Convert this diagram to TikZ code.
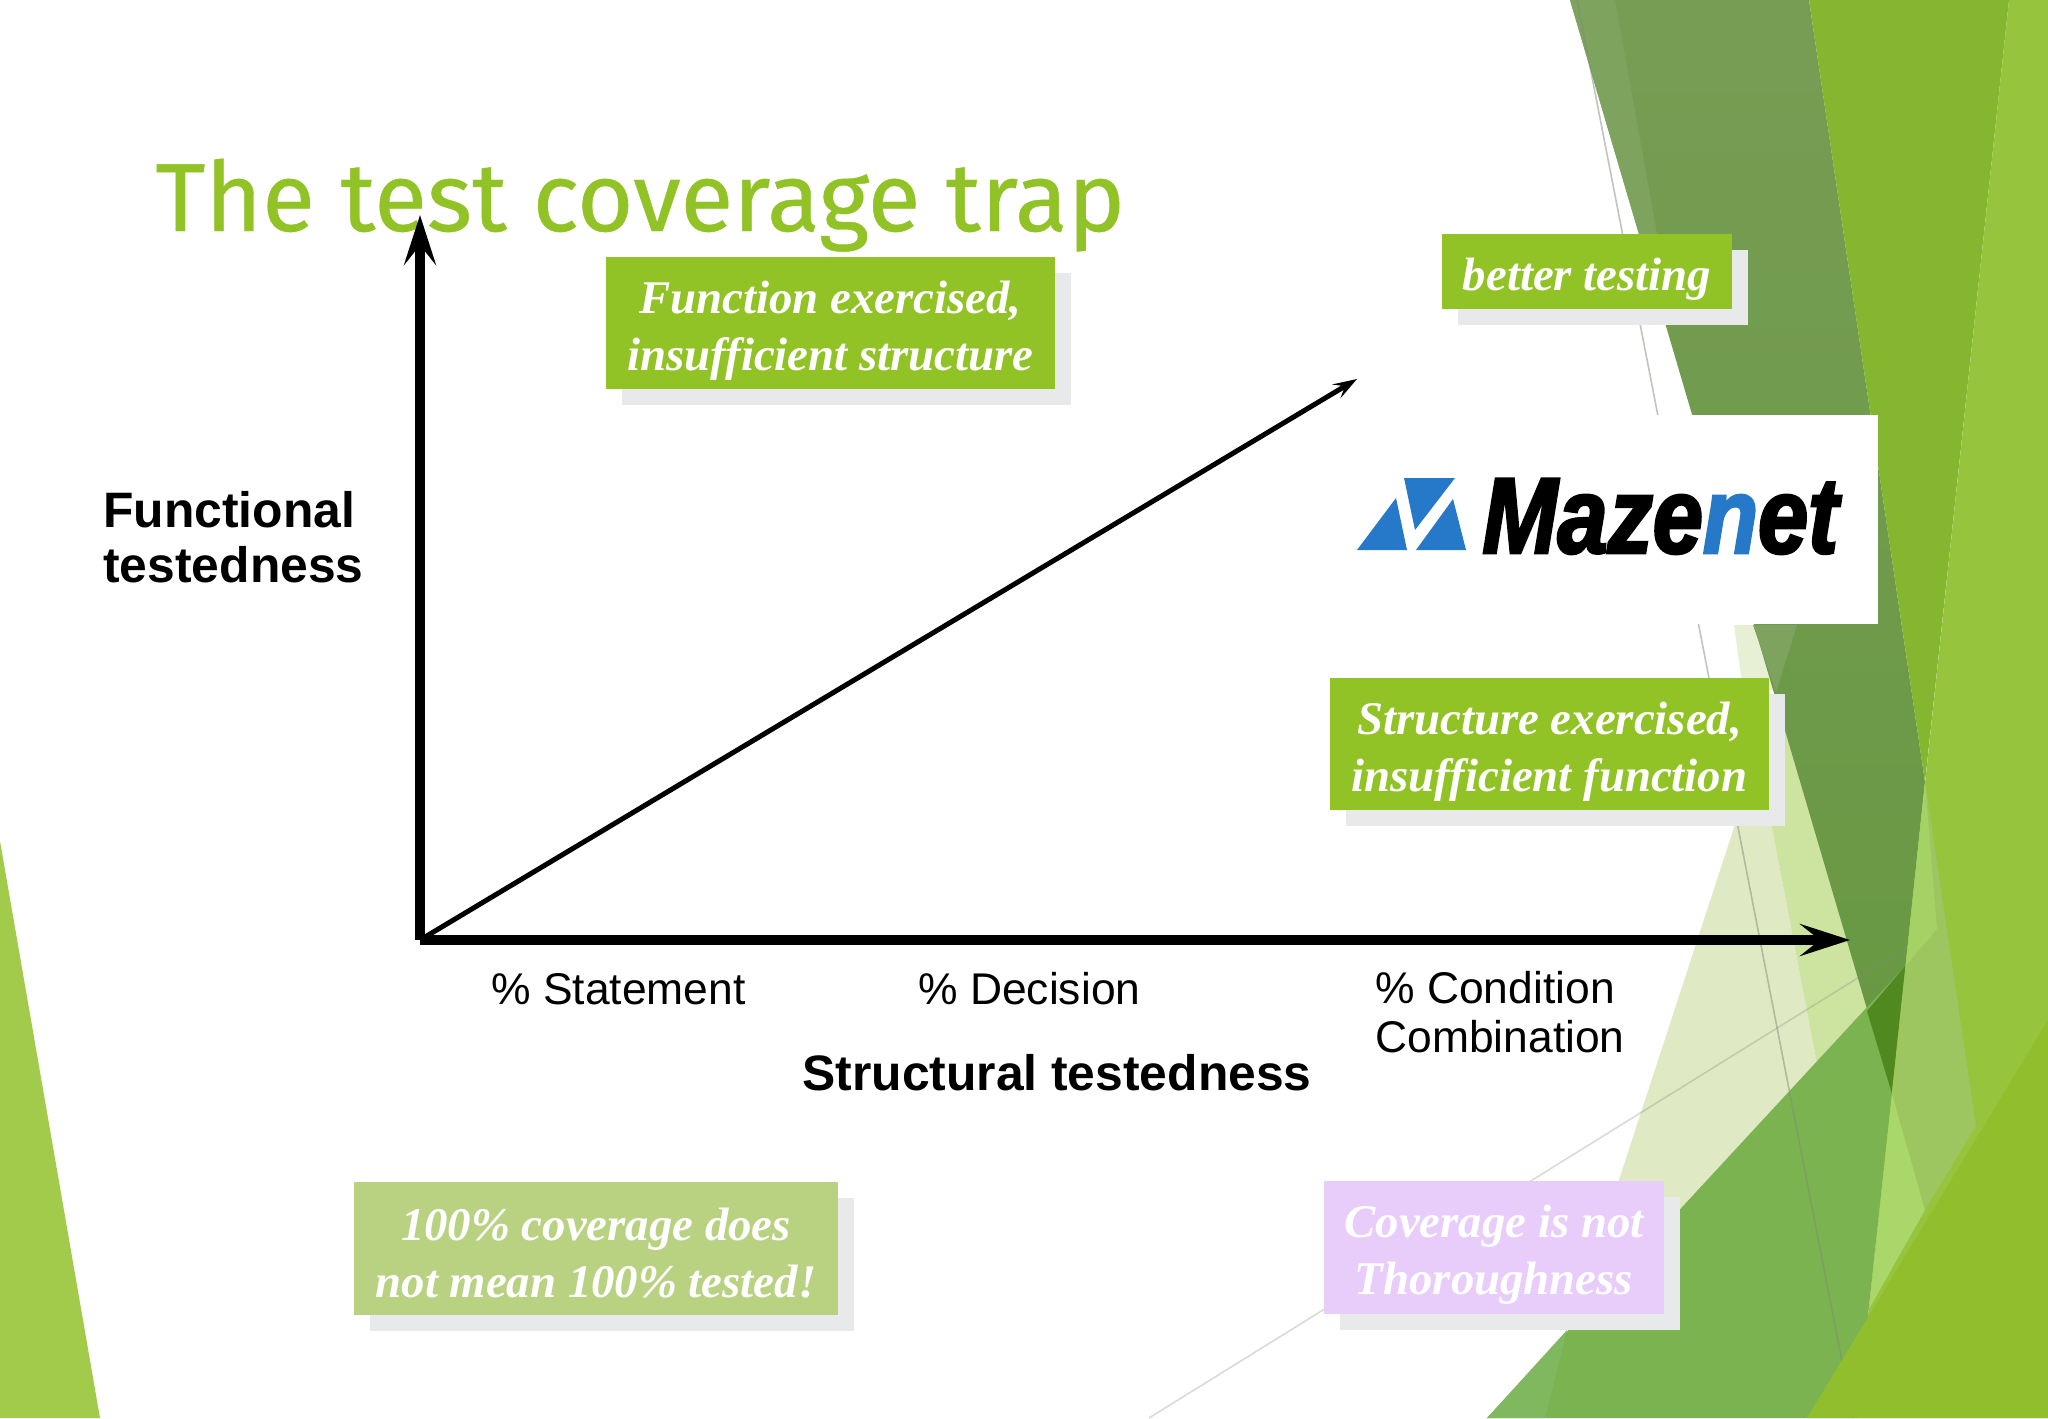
\documentclass[tikz,border=0pt]{standalone}
\usepackage{fontspec}
\setmainfont{Liberation Sans}
\newfontfamily\titlefont{Fira Sans}[FakeBold=0.4]
\newfontfamily\boxfont{Liberation Serif}
\newfontfamily\logofont{Liberation Sans}[BoldItalicFeatures={FakeBold=2.5,FakeStretch=.835}]
\usetikzlibrary{arrows.meta, positioning, shadows}
\definecolor{slidegreen}{RGB}{145,194,38}
\definecolor{darkleaf}{RGB}{118,157,84}
\definecolor{darkleafb}{RGB}{104,152,66}
\definecolor{midleaf}{RGB}{133,182,47}
\definecolor{lowleaf}{RGB}{122,179,80}
\definecolor{lowedge}{RGB}{128,184,96}
\definecolor{lightleaf}{RGB}{150,196,60}
\definecolor{footleaf}{RGB}{145,190,45}
\definecolor{cornerleaf}{RGB}{163,203,75}
\definecolor{paleleaf}{RGB}{223,233,196}
\definecolor{paleleafb}{RGB}{231,240,213}
\definecolor{paleleafc}{RGB}{205,228,160}
\definecolor{sliverleaf}{RGB}{125,163,95}
\definecolor{tipleaf}{RGB}{80,137,31}
\definecolor{softleaf}{RGB}{158,198,96}
\definecolor{softleafb}{RGB}{165,210,100}
\definecolor{softleafc}{RGB}{170,215,105}
\definecolor{shadowgray}{RGB}{232,233,235}
\definecolor{logoblue}{RGB}{38,120,200}
\definecolor{fadedgreen}{RGB}{184,210,130}
\definecolor{lilac}{RGB}{232,205,250}
\definecolor{hairline}{RGB}{130,140,120}
\tikzstyle{callout} = [fill=slidegreen, text=white, inner sep=0pt, align=center,
	font=\boxfont\bfseries\itshape\fontsize{23.4}{28.5}\selectfont,
	drop shadow={shadow xshift=8pt, shadow yshift=-8pt, fill=shadowgray, opacity=1}]
\tikzset{lifted/.style={execute at begin node={\rule{0pt}{#1}}}}
\tikzstyle{axislabel} = [anchor=base west, inner sep=0pt, align=left, font=\fontsize{22.2}{24.5}\selectfont]
\tikzstyle{axistitle} = [anchor=base west, inner sep=0pt, align=left, font=\bfseries\fontsize{24.9}{27.5}\selectfont]
\tikzstyle{axisline} = [line width=5pt, -{Stealth[length=25pt,width=16pt,inset=10pt].}]
\tikzstyle{thinline} = [line width=.8pt, hairline, opacity=.5]
\begin{document}
\begin{tikzpicture}[x=0.5pt, y=-0.5pt]
	\useasboundingbox (0,0) rectangle (2048,1418);
	\fill[white] (0,0) rectangle (2048,1418);
	% left corner
	\fill[cornerleaf] (0,841) -- (100,1418) -- (0,1418) -- cycle;
	% pale leaves
	\fill[paleleafb] (1734,625) -- (1780,625) -- (1780,690) -- (1743,690) -- cycle;
	\fill[paleleaf] (1758,754) -- (1820,1080) -- (1570,1330) -- cycle;
	\fill[paleleafc] (1758,754) -- (1800,700) -- (1900,1000) -- (1820,1080) -- cycle;
	% dark leaf
	\path[top color=darkleaf, bottom color=darkleafb] (1570,0) -- (1809,0) -- (1925,782) -- (1892,1094) -- cycle;
	\fill[sliverleaf] (1570,0) -- (1615,0) -- (1657,234) -- (1639,234) -- cycle;
	\fill[sliverleaf] (1753,625) -- (1797,625) -- (1776,692) -- cycle;
	\fill[midleaf] (1809,0) -- (2009,0) -- (1925,782) -- cycle;
	% lower leaves
	\fill[lowleaf] (1487,1418) -- (1906,965) -- (1857,1418) -- cycle;
	\fill[lowedge] (1487,1418) -- (1567,1330) -- (1545,1418) -- cycle;
	\fill[tipleaf] (1867,1011) -- (1906,965) -- (1892,1094) -- cycle;
	% right leaves
	\fill[lightleaf] (2009,0) -- (2048,0) -- (2048,1418) -- (1857,1418) -- cycle;
	\fill[softleaf] (1925,782) -- (1976,1126) -- (1925,1210) -- (1892,1094) -- cycle;
	\fill[softleafb] (1925,782) -- (1937,929) -- (1906,965) -- cycle;
	\fill[softleafc] (1892,1094) -- (1925,1210) -- (1869,1309) -- cycle;
	% thin lines
	\coordinate (lineatop) at (1577,0);
	\coordinate (lineaend) at (1853,1418);
	\coordinate (linebtop) at (1906,948);
	\coordinate (linebend) at (1149,1418);
	\draw[thinline] (lineatop) -- (lineaend);
	\draw[thinline, opacity=.3] (linebtop) -- (linebend);
	\fill[footleaf] (2048,1020) -- (2048,1418) -- (1807,1418) -- cycle;
	% logo
	\fill[white] (1340,415) rectangle (1878,624);
	\fill[logoblue] (1404,478) -- (1455,478) -- (1415,530) -- cycle;
	\fill[logoblue] (1396,498) -- (1407,550) -- (1357,550) -- cycle;
	\fill[logoblue] (1453,499) -- (1466,550) -- (1416,550) -- cycle;
	\node[anchor=base west, inner sep=0pt, font=\logofont\bfseries\itshape\fontsize{54}{54}\selectfont] (logo) at (1482,553) {Maze\textcolor{logoblue}{n}et};
	% title
	\node[anchor=base west, inner sep=0pt, text=slidegreen, font=\titlefont\fontsize{48.4}{48}\selectfont] (title) at (155,231) {The test coverage trap};
	% axes
	\coordinate (origin) at (420,940);
	\coordinate (ytop) at (420,215);
	\coordinate (xend) at (1850,940);
	\coordinate (diagend) at (1357,379);
	\draw[axisline] (origin) -- (ytop);
	\draw[axisline] (origin) -- (xend);
	\draw[line width=2.5pt, -{Stealth[length=12pt,width=8pt,inset=5pt].}] (origin) -- (diagend);
	% labels
	\node[axistitle] (functional) at (103,582) {Functional\\testedness};
	\node[axislabel] (statement) at (491,1004) {\% Statement};
	\node[axislabel] (decision) at (918,1004) {\% Decision};
	\node[axislabel] (condition) at (1375,1052) {\% Condition\\Combination};
	\node[axistitle] (structural) at (802,1090) {Structural testedness};
	% callouts
	\node[callout, lifted=52pt, minimum width=224.5pt, minimum height=66pt] (fnbox) at (830.5,323) {Function exercised,\\insufficient structure};
	\node[callout, lifted=24pt, minimum width=145pt, minimum height=37.5pt] (better) at (1587,271.5) {better testing};
	\node[callout, lifted=52pt, minimum width=219.5pt, minimum height=66pt] (structbox) at (1549.5,744) {Structure exercised,\\insufficient function};
	\node[callout, lifted=49pt, fill=fadedgreen, minimum width=242pt, minimum height=66.5pt] (fullbox) at (596,1248.5) {100\% coverage does\\not mean 100\% tested!};
	\node[callout, lifted=52pt, fill=lilac, minimum width=170pt, minimum height=66.5pt] (thorough) at (1494,1247.5) {Coverage is not\\Thoroughness};
\end{tikzpicture}
\end{document}
